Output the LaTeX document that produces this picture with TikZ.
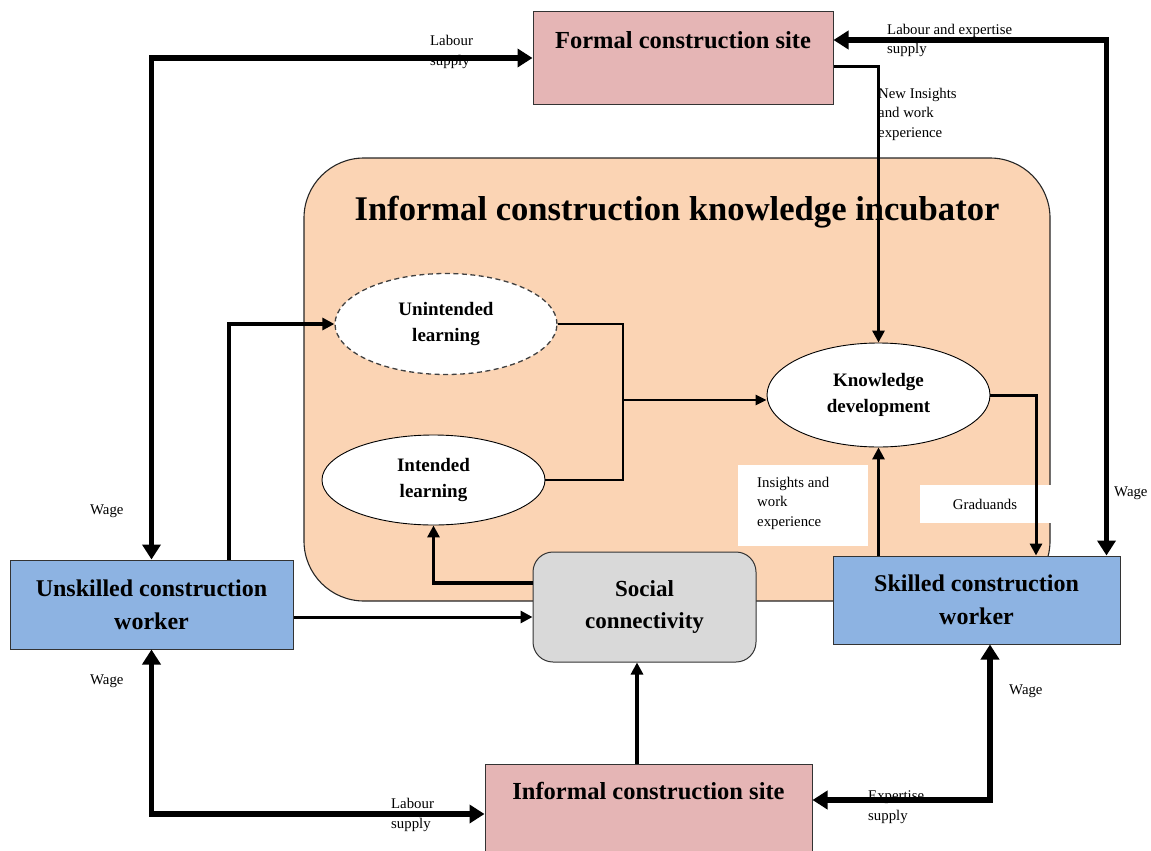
\documentclass[tikz,border=0pt]{standalone}
\usepackage{fontspec}
\setmainfont{Liberation Serif}
\usetikzlibrary{arrows.meta,shapes.geometric,calc}
\definecolor{sitepink}{HTML}{E5B5B5}
\definecolor{incubfill}{HTML}{FBD4B4}
\definecolor{workerblue}{HTML}{8DB3E2}
\definecolor{socialgrey}{HTML}{D9D9D9}
\definecolor{edgegrey}{HTML}{333333}
\begin{document}
\begin{tikzpicture}[x=1pt,y=-1pt,
  sitebox/.style={draw=edgegrey, line width=1pt, fill=sitepink, rectangle},
  workerbox/.style={draw=edgegrey, line width=1pt, fill=workerblue, rectangle,
    align=center, font=\fontsize{24}{33}\selectfont\bfseries},
  sitetext/.style={font=\fontsize{24.5}{28}\selectfont\bfseries},
  learnnode/.style={ellipse, draw=black, line width=0.9pt, fill=white, inner sep=0pt,
    align=center, font=\fontsize{19}{26}\selectfont\bfseries},
  smalllabel/.style={anchor=west, align=left, inner sep=0pt,
    font=\fontsize{14.8}{19.5}\selectfont},
  big/.style={line width=5.5pt, >={Triangle[length=15pt,width=18pt]}},
  med/.style={line width=3.5pt, >={Triangle[length=12pt,width=12pt]}},
  thinlink/.style={line width=1.4pt},
  midlink/.style={line width=2.5pt, >={Triangle[length=11pt,width=10pt]}}]
\useasboundingbox (0,0) rectangle (1151,851);

% incubator background
\node[draw=black!85, line width=1.1pt, fill=incubfill, rounded corners=60pt,
  minimum width=746pt, minimum height=443pt] (incub) at (677,379.5) {};
\node[font=\fontsize{34.6}{40}\selectfont\bfseries] (incubtitle) at (677,212)
  {Informal construction knowledge incubator};

% learning ellipses
\node[learnnode, dashed, draw=black!75, line width=1.3pt, dash pattern=on 5pt off 3.5pt,
  minimum width=222pt, minimum height=101pt] (unint) at (446,324)
  {Unintended\\learning};
\node[learnnode, minimum width=223pt, minimum height=90pt] (int) at (433.5,480)
  {Intended\\learning};
\node[learnnode, minimum width=223pt, minimum height=104pt] (know) at (878.5,395)
  {Knowledge\\development};

% construction sites
\node[sitebox, minimum width=300pt, minimum height=92pt] (formal) at (683,58) {};
\node[sitetext] (formaltxt) at (683,40) {Formal construction site};
\node[sitebox, minimum width=327pt, minimum height=100pt] (informal) at (648.5,814) {};
\node[sitetext] (informaltxt) at (648.5,791) {Informal construction site};

% workers and social connectivity
\node[workerbox, minimum width=283pt, minimum height=89pt] (unsk) at (151.5,604.5)
  {Unskilled construction\\worker};
\node[workerbox, minimum width=287pt, minimum height=88pt] (skilled) at (976.5,600)
  {Skilled construction\\worker};
\node[draw=edgegrey, line width=1pt, fill=socialgrey, rounded corners=20pt,
  minimum width=223pt, minimum height=110pt, align=center,
  font=\fontsize{23}{32}\selectfont\bfseries] (social) at (644.5,607)
  {Social\\connectivity};

% white label panels
\node[fill=white, minimum width=130pt, minimum height=81pt] (insbox) at (803,505.5) {};
\node[smalllabel] (instxt) at (757,503) {Insights and\\work\\experience};
\node[fill=white, minimum width=131pt, minimum height=38pt] (gradbox) at (985.5,504) {};
\node[font=\fontsize{14.8}{19.5}\selectfont] (gradtxt) at (985,504) {Graduands};

% connector labels
\node[smalllabel] (lab1) at (430,52) {Labour\\supply};
\node[smalllabel] (lab2) at (887,40.5) {Labour and expertise\\supply};
\node[smalllabel] (lab3) at (878,114) {New Insights\\and work\\experience};
\node[smalllabel] (wage1) at (90,511) {Wage};
\node[smalllabel] (wage2) at (90,681) {Wage};
\node[smalllabel] (wage3) at (1114,493) {Wage};
\node[smalllabel] (wage4) at (1009,691) {Wage};
\node[smalllabel] (lab4) at (391,815) {Labour\\supply};
\node[smalllabel] (lab5) at (868,807) {Expertise\\supply};

% connector anchor points
\coordinate (fr) at ($(formal.east)+(0,-18)$);
\coordinate (fn) at ($(formal.east)+(0,9)$);
\coordinate (sr) at ($(skilled.north east)+(-14,0)$);
\coordinate (sb) at ($(skilled.south)+(13.5,0)$);
\coordinate (ie) at ($(informal.east)+(0,-14)$);
\coordinate (ub) at ($(unsk.north)+(77.5,0)$);
\coordinate (ua) at ($(unsk.east)+(0,12.5)$);
\coordinate (sw) at ($(social.west)+(0,-24)$);
\coordinate (ic) at ($(social.south)+(-7.5,0)$);
\coordinate (ks) at ($(skilled.north)+(59.5,0)$);
\coordinate (jn) at (623,400);

% outer exchange loops
\draw[big,<->] (unsk.north) |- (formal.west);
\draw[big,<->] (fr) -| (sr);
\draw[big,<->] (unsk.south) |- (informal.west);
\draw[big,<->] (sb) |- (ie);

% flows into and out of the incubator
\draw[med,line width=3pt,->] (fn) -| (know.north);
\draw[med,->] (ub) |- (unint.west);
\draw[med,line width=3pt,->] (ua) -- (ua -| social.west);
\draw[med,->] (sw) -| (int.south);
\draw[med,->] (ic |- informal.north) -- (ic);
\draw[med,line width=3pt,->] (skilled.north -| know.south) -- (know.south);
\draw[med,line width=3pt,->] (know.east) -| (ks);

% learning paths merging into knowledge development
\draw[thinlink] (unint.east) -| (jn) |- (int.east);
\draw[midlink,->] (jn) -- (jn -| know.west);
\end{tikzpicture}
\end{document}
